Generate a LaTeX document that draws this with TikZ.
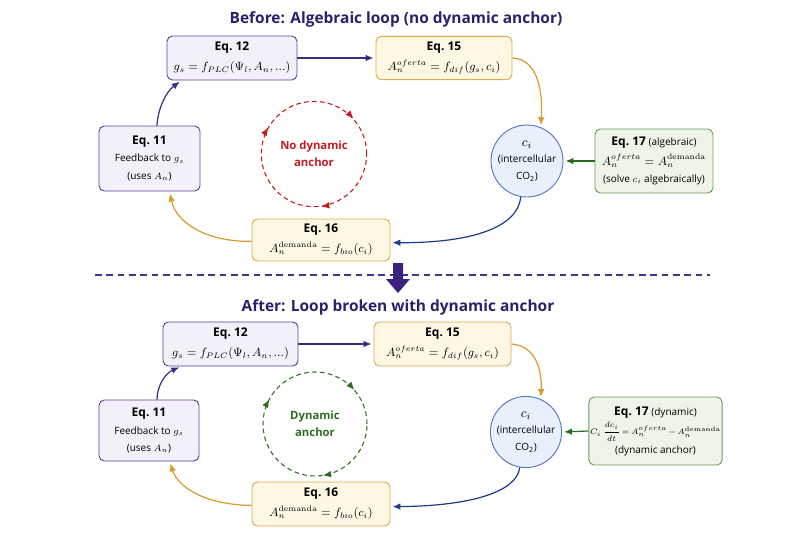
\documentclass[tikz,border=0pt]{standalone}
\usepackage[no-math]{fontspec}
\setmainfont{Open Sans}
\usetikzlibrary{arrows.meta}
\definecolor{titlecol}{HTML}{2E1F6B}
\definecolor{pborder}{HTML}{5B45A0}
\definecolor{pfill}{HTML}{F3F0FA}
\definecolor{parrow}{HTML}{3A2A86}
\definecolor{yborder}{HTML}{DDA94A}
\definecolor{yfill}{HTML}{FEF7E4}
\definecolor{garrow}{HTML}{D69A2D}
\definecolor{cborder}{HTML}{5277C8}
\definecolor{cfill}{HTML}{E9F0FB}
\definecolor{narrow}{HTML}{1E3A8C}
\definecolor{grborder}{HTML}{6E9E55}
\definecolor{grfill}{HTML}{EEF4E7}
\definecolor{grarrow}{HTML}{2B6A1E}
\definecolor{redc}{HTML}{C41A1F}
\definecolor{dgreen}{HTML}{2F6B22}
\definecolor{sepc}{HTML}{3B3594}
\definecolor{bigarrow}{HTML}{3B2080}
\newcommand{\eqlbl}[1]{{\fontsize{9}{13}\selectfont\bfseries Eq.~#1}}
\newcommand{\mth}[1]{{\fontsize{8.8}{13}\selectfont$#1$}}
\begin{document}
\begin{tikzpicture}[x=0.75pt,y=-0.75pt,
  box/.style={draw, rounded corners=4pt, align=center, inner sep=1pt, line width=0.7pt, font=\fontsize{7.5}{13}\selectfont},
  pbox/.style={box, draw=pborder, fill=pfill},
  ybox/.style={box, draw=yborder, fill=yfill},
  grbox/.style={box, draw=grborder, fill=grfill},
  cnode/.style={circle, draw=cborder, fill=cfill, line width=0.7pt, align=center, inner sep=0pt, font=\fontsize{7.5}{12.5}\selectfont},
  conn/.style={line width=0.9pt, -{Latex[length=6pt,width=5pt]}, shorten >=1.5pt},
  tip/.style={line width=0.8pt, -{Latex[length=6pt,width=5pt]}},
  ttl/.style={font=\bfseries\fontsize{11.6}{15}\selectfont, text=titlecol},
  loopc/.style={circle, dashed, dash pattern=on 3.5pt off 2.5pt, line width=0.8pt, minimum size=79pt, align=center, font=\bfseries\fontsize{8.5}{12.5}\selectfont}
]
\useasboundingbox (0,0) rectangle (800,533);

% ---------- top half ----------
\node[ttl] (t1) at (396,19) {Before: Algebraic loop (no dynamic anchor)};
\node[pbox, minimum width=97.5pt, minimum height=33pt] (e12) at (232,58) {\eqlbl{12}\\[2pt] \mth{g_s = f_{PLC}(\Psi_l, A_n, ...)}};
\node[ybox, minimum width=102pt, minimum height=32.5pt] (e15) at (444,58) {\eqlbl{15}\\[2pt] \mth{A_n^{oferta} = f_{dif}(g_s, c_i)}};
\node[cnode, minimum size=54pt] (ci) at (527,161) {{\fontsize{10}{12.5}\selectfont$c_i$}\\(intercellular\\CO\textsubscript{2})};
\node[grbox, minimum width=88.5pt, minimum height=48pt] (e17) at (654,161) {\eqlbl{17} (algebraic)\\[1.5pt] \mth{A_n^{oferta} = A_n^{\mathrm{demanda}}}\\ (solve $c_i$ algebraically)};
\node[ybox, minimum width=103.5pt, minimum height=31.5pt] (e16) at (321,240) {\eqlbl{16}\\[2pt] \mth{A_n^{\mathrm{demanda}} = f_{bio}(c_i)}};
\node[pbox, minimum width=75.75pt, minimum height=48.75pt] (e11) at (149.5,158.5) {\eqlbl{11}\\ Feedback to $g_s$\\ (uses $A_n$)};
\node[loopc, draw=redc, text=redc] (nda) at (314,154) {No dynamic\\anchor};

\draw[conn, parrow] (e12.east) -- (e15.west);
\draw[conn, garrow] (e15.east) .. controls (538,59) and (543,92) .. (ci.68);
\draw[conn, grarrow] (e17.west) -- (ci.east);
\draw[conn, narrow] (ci.-100) .. controls (518,228) and (470,243) .. ([yshift=-2pt]e16.east);
\draw[conn, garrow] ([yshift=-1pt]e16.west) .. controls (205,242) and (176,222) .. ([xshift=15pt]e11.south);
\draw[conn, parrow] ([xshift=5.6pt]e11.north) .. controls (158,108) and (166,92) .. ([xshift=-38pt]e12.south);

\draw[tip, redc] (314,154) ++(-160:53) arc[start angle=-160, end angle=-150, radius=53];
\draw[tip, redc] (314,154) ++(-50:53) arc[start angle=-50, end angle=-42, radius=53];
\draw[tip, redc] (314,154) ++(74:53) arc[start angle=74, end angle=82, radius=53];

% ---------- separator ----------
\draw[sepc, dash pattern=on 5pt off 3.5pt, line width=1pt] (95,275) -- (710,275);
\fill[bigarrow] (393,263) -- (403,263) -- (403,279) -- (410,279) -- (398,293) -- (386,279) -- (393,279) -- cycle;

% ---------- bottom half ----------
\node[ttl] (t2) at (398,307) {After: Loop broken with dynamic anchor};
\node[pbox, minimum width=101.25pt, minimum height=33pt] (b12) at (230.5,344) {\eqlbl{12}\\[2pt] \mth{g_s = f_{PLC}(\Psi_l, A_n, ...)}};
\node[ybox, minimum width=102.75pt, minimum height=33pt] (b15) at (442.5,344) {\eqlbl{15}\\[2pt] \mth{A_n^{oferta} = f_{dif}(g_s, c_i)}};
\node[cnode, minimum size=52.5pt] (bci) at (526,432) {{\fontsize{10}{12.5}\selectfont$c_i$}\\(intercellular\\CO\textsubscript{2})};
\node[grbox, minimum width=92.25pt, minimum height=51pt] (b17) at (655.5,431) {\eqlbl{17} (dynamic)\\[1.5pt] {\fontsize{6.2}{13}\selectfont\medmuskip=2mu\thickmuskip=3mu$C_i\,{\displaystyle\frac{dc_i}{dt}} = A_n^{oferta} - A_n^{\mathrm{demanda}}$}\\[1pt] (dynamic anchor)};
\node[ybox, minimum width=103.5pt, minimum height=33pt] (b16) at (321,504) {\eqlbl{16}\\[2pt] \mth{A_n^{\mathrm{demanda}} = f_{bio}(c_i)}};
\node[pbox, minimum width=75pt, minimum height=45.75pt] (b11) at (149,430.5) {\eqlbl{11}\\ Feedback to $g_s$\\ (uses $A_n$)};
\node[loopc, minimum size=78pt, draw=dgreen, text=dgreen] (da) at (315,424) {Dynamic\\anchor};

\draw[conn, parrow] (b12.east) -- (b15.west);
\draw[conn, garrow] (b15.east) .. controls (537,346) and (542,372) .. (bci.66);
\draw[conn, grarrow] (b17.west) -- (bci.east);
\draw[conn, narrow] (bci.-100) .. controls (517,492) and (470,506) .. ([yshift=-2pt]b16.east);
\draw[conn, garrow] ([yshift=-1pt]b16.west) .. controls (205,505) and (178,487) .. ([xshift=15.5pt]b11.south);
\draw[conn, parrow] ([xshift=6pt]b11.north) .. controls (157,385) and (166,373) .. ([xshift=-37pt]b12.south);

\draw[tip, dgreen] (315,424) ++(-160:52) arc[start angle=-160, end angle=-152, radius=52];
\draw[tip, dgreen] (315,424) ++(-49:52) arc[start angle=-49, end angle=-41, radius=52];
\draw[tip, dgreen] (315,424) ++(73:52) arc[start angle=73, end angle=81, radius=52];
\end{tikzpicture}
\end{document}
